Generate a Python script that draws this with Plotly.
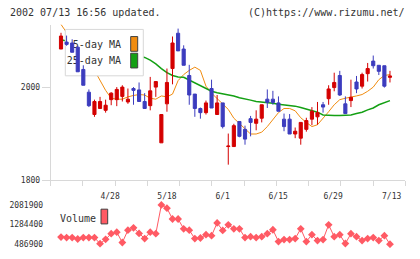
import plotly.graph_objects as go

# ---------------- data ----------------
dates = ["4/17", "4/18", "4/19", "4/22", "4/23", "4/24", "4/25", "4/26", "4/30", "5/1",
         "5/2", "5/7", "5/8", "5/9", "5/10", "5/13", "5/14", "5/15", "5/16", "5/17",
         "5/20", "5/21", "5/22", "5/23", "5/24", "5/27", "5/28", "5/29", "5/30", "5/31",
         "6/3", "6/4", "6/5", "6/6", "6/7", "6/10", "6/11", "6/12", "6/13", "6/14",
         "6/17", "6/18", "6/19", "6/20", "6/21", "6/24", "6/25", "6/26", "6/27", "6/28",
         "7/1", "7/2", "7/3", "7/4", "7/5", "7/8", "7/9", "7/10", "7/11", "7/12"]

opens = [2083, 2098, 2096, 2087, 2039, 1990, 1942, 1955, 1951, 1974,
         1974, 1981, 1969, 1998, 1995, 1970, 1961, 2001, 1881, 1965,
         2041, 2117, 2083, 2026, 1986, 1955, 1946, 1998, 1942, 1967,
         1873, 1873, 1927, 1910, 1933, 1923, 1934, 1975, 1975, 1967,
         1932, 1932, 1900, 1891, 1910, 1932, 1937, 1963, 1976, 2000,
         2026, 1965, 1972, 2012, 2003, 2030, 2057, 2048, 2047, 2022]
highs = [2118, 2112, 2104, 2090, 2048, 1996, 1974, 1980, 1974, 1990,
         2001, 2005, 1998, 2001, 2011, 1988, 2023, 2014, 1942, 2041,
         2110, 2127, 2091, 2049, 1986, 1957, 1972, 2017, 1984, 1967,
         1901, 1922, 1927, 1918, 1939, 1951, 1963, 1996, 1993, 1981,
         1944, 1943, 1914, 1925, 1935, 1958, 1969, 1969, 2005, 2032,
         2036, 1981, 2017, 2025, 2032, 2053, 2069, 2048, 2047, 2036]
lows = [2083, 2090, 2076, 2034, 2005, 1958, 1937, 1955, 1946, 1962,
        1960, 1970, 1965, 1963, 1970, 1955, 1951, 1980, 1881, 1948,
        2007, 2079, 2048, 1963, 1937, 1933, 1942, 1956, 1942, 1912,
        1834, 1872, 1893, 1877, 1895, 1908, 1925, 1956, 1963, 1949,
        1906, 1900, 1891, 1877, 1905, 1919, 1920, 1946, 1963, 1992,
        1982, 1944, 1958, 1988, 1998, 2013, 2041, 2027, 2000, 2011]
closes = [2111, 2093, 2076, 2034, 2005, 1961, 1970, 1970, 1962, 1988,
          1996, 2001, 1975, 1994, 1970, 1955, 1993, 2013, 1942, 2011,
          2096, 2079, 2048, 1984, 1955, 1946, 1967, 1956, 1967, 1916,
          1874, 1918, 1895, 1889, 1925, 1932, 1963, 1968, 1968, 1949,
          1916, 1900, 1906, 1925, 1929, 1949, 1946, 1958, 1997, 2011,
          1984, 1944, 1979, 1997, 2028, 2041, 2047, 2035, 2003, 2025]

ma5 = [2136, 2119, 2102, 2083, 2066, 2049, 2037, 2015, 1994, 1977,
       1975, 1975, 1980, 1983, 1985, 1984, 1977, 1975, 1982, 1980,
       1986, 2015, 2028, 2037, 2044, 2037, 2003, 1988, 1977, 1965,
       1953, 1934, 1922, 1910, 1900, 1900, 1904, 1916, 1931, 1946,
       1955, 1955, 1950, 1935, 1925, 1916, 1920, 1933, 1948, 1963,
       1974, 1977, 1979, 1982, 1985, 1992, 2001, 2017, 2026, 2028]
ma25 = [2103, 2100, 2098, 2095, 2092, 2090, 2088, 2085, 2083, 2080,
        2077, 2075, 2072, 2070, 2067, 2065, 2059, 2051, 2041, 2032,
        2026, 2023, 2022, 2016, 2009, 2003, 1997, 1992, 1989, 1987,
        1984, 1982, 1978, 1976, 1973, 1970, 1969, 1968, 1966, 1964,
        1963, 1962, 1960, 1957, 1954, 1951, 1947, 1941, 1940, 1940,
        1940, 1941, 1941, 1944, 1947, 1952, 1956, 1963, 1967, 1972]

volume = [778000, 754100, 754100, 698200, 754100, 754100, 754100, 507000, 686300, 913600,
          977400, 554700, 1057100, 1152800, 925500, 714200, 977400, 913600, 2081900, 1950300,
          1511700, 1511700, 1112900, 1057100, 714200, 738100, 873700, 833800, 1352200, 1045200,
          1272400, 1112900, 1112900, 754100, 793900, 754100, 793900, 913600, 1073100, 594600,
          674300, 674300, 714200, 1112900, 594600, 873700, 634400, 674300, 1272400, 793900,
          873700, 514800, 913600, 793900, 634400, 714200, 754100, 634400, 833800, 486900]

price_ticks = [1800, 2000]
vol_ticks = [486900, 1284400, 2081900]
date_labels = ["4/28", "5/18", "6/1", "6/15", "6/29", "7/13"]
date_label_pos = [8.8, 19.0, 29.0, 38.95, 48.8, 59.3]

# ---------------- layout geometry ----------------
W, H = 420, 259
X0PX, X1PX = 50.7, 405.3
XR = [-1.85, 61.75]
P_TOP, P_BOT = 25.0, 184.0
PR = [1800, 2135.8]
V_TOP, V_BOT = 205.0, 253.0
VR = [327400, 2241400]

FONT = "DejaVu Sans Mono"
TXT = "#333333"
AX = "#d8d8d8"
RED = "#d40000"
BLUE = "#3c3cbe"
ORANGE = "#f08c10"
GREEN = "#14a014"
VOLC = "#ff5a64"

idx = list(range(len(dates)))


def xd(px):
    return XR[0] + (px - X0PX) / (X1PX - X0PX) * (XR[1] - XR[0])


def yd(py):
    return PR[0] + (P_BOT - py) / (P_BOT - P_TOP) * (PR[1] - PR[0])


def rect(x0, y0, x1, y1):
    return ([xd(x0), xd(x1), xd(x1), xd(x0), xd(x0)],
            [yd(y0), yd(y0), yd(y1), yd(y1), yd(y0)])


fig = go.Figure()

# moving averages (main price subplot, drawn below candles)
fig.add_trace(go.Scatter(x=idx, y=ma5, mode="lines", line=dict(color=ORANGE, width=1),
                         xaxis="x", yaxis="y", hoverinfo="skip"))
fig.add_trace(go.Scatter(x=idx, y=ma25, mode="lines", line=dict(color=GREEN, width=1.5),
                         xaxis="x", yaxis="y", hoverinfo="skip"))

# legend box (sits above MA lines, below candles)
bx, by = rect(65.3, 30, 143.3, 77.3)
fig.add_trace(go.Scatter(x=bx, y=by, mode="lines", fill="toself", fillcolor="white",
                         line=dict(color=AX, width=1), xaxis="x", yaxis="y", hoverinfo="skip"))
for (y0, y1, col) in [(37.3, 52.3, ORANGE), (54.3, 69.3, GREEN)]:
    sx, sy = rect(130.7, y0, 137.7, y1)
    fig.add_trace(go.Scatter(x=sx, y=sy, mode="lines", fill="toself", fillcolor=col,
                             line=dict(color="#404040", width=1), xaxis="x", yaxis="y",
                             hoverinfo="skip"))
fig.add_trace(go.Scatter(x=[xd(121), xd(121)], y=[yd(46.2), yd(62.5)], mode="text",
                         text=["5-day MA", "25-day MA"], textposition="middle left",
                         textfont=dict(family=FONT, size=10, color=TXT),
                         xaxis="x", yaxis="y", hoverinfo="skip", cliponaxis=False))

# candles (overlay subplot so they are drawn above the legend box)
fig.add_trace(go.Candlestick(x=idx, open=opens, high=highs, low=lows, close=closes,
                             xaxis="x3", yaxis="y3", whiskerwidth=0,
                             increasing=dict(line=dict(color=RED, width=1), fillcolor=RED),
                             decreasing=dict(line=dict(color=BLUE, width=1), fillcolor=BLUE),
                             hoverinfo="skip"))

# volume
fig.add_trace(go.Scatter(x=idx, y=volume, mode="lines+markers", xaxis="x2", yaxis="y2",
                         line=dict(color=VOLC, width=1),
                         marker=dict(symbol="diamond", size=6, color=VOLC),
                         hoverinfo="skip"))

xdom = [X0PX / W, X1PX / W]
pdom = [1 - P_BOT / H, 1 - P_TOP / H]
vdom = [1 - V_BOT / H, 1 - V_TOP / H]

fig.update_layout(
    width=W, height=H, margin=dict(l=0, r=0, t=0, b=0),
    paper_bgcolor="white", plot_bgcolor="white", showlegend=False, boxgap=0.2,
    font=dict(family=FONT, size=8, color=TXT),
    xaxis=dict(domain=xdom, range=XR, anchor="y", showline=True, linecolor=AX, linewidth=1,
               ticks="outside", ticklen=5, tickcolor=AX, tickmode="linear", tick0=XR[0],
               dtick=(XR[1] - XR[0]) / 11, showticklabels=False, showgrid=False, zeroline=False),
    yaxis=dict(domain=pdom, range=PR, anchor="x", showline=True, linecolor=AX, linewidth=1,
               ticks="outside", ticklen=8, tickcolor=AX, tickvals=price_ticks,
               ticktext=[str(v) for v in price_ticks],
               showgrid=False, zeroline=False, tickfont=dict(family=FONT, size=8, color=TXT)),
    xaxis3=dict(overlaying="x", anchor="y3", domain=xdom, range=XR, side="bottom",
                showline=False, showgrid=False, zeroline=False, tickvals=date_label_pos,
                ticktext=date_labels, ticks="outside", ticklen=8, tickcolor="rgba(0,0,0,0)",
                tickfont=dict(family=FONT, size=8, color=TXT),
                rangeslider=dict(visible=False)),
    yaxis3=dict(overlaying="y", anchor="x3", range=PR, visible=False),
    xaxis2=dict(domain=xdom, range=XR, anchor="y2", visible=False),
    yaxis2=dict(domain=vdom, range=VR, anchor="x2", showline=False, showgrid=False,
                zeroline=False, tickvals=vol_ticks, ticktext=[str(v) for v in vol_ticks],
                ticks="outside", ticklen=5, tickcolor="rgba(0,0,0,0)",
                tickfont=dict(family=FONT, size=8, color=TXT)),
)

fig.add_annotation(x=8 / W, y=1 - 13 / H, xref="paper", yref="paper", xanchor="left",
                   yanchor="middle", showarrow=False, text="2002 07/13 16:56 updated.",
                   font=dict(family=FONT, size=10, color=TXT))
fig.add_annotation(x=407 / W, y=1 - 13 / H, xref="paper", yref="paper", xanchor="right",
                   yanchor="middle", showarrow=False, text="(C)https://www.rizumu.net/",
                   font=dict(family=FONT, size=10, color=TXT))
fig.add_annotation(x=58 / W, y=1 - 222.5 / H, xref="paper", yref="paper", xanchor="left",
                   yanchor="middle", showarrow=False, text="Volume",
                   font=dict(family=FONT, size=10, color=TXT))
fig.add_shape(type="rect", xref="paper", yref="paper", x0=101 / W, x1=107.7 / W,
              y0=1 - 228.3 / H, y1=1 - 213.3 / H, fillcolor=VOLC,
              line=dict(color="#404040", width=1))

fig.write_html("out.html")
